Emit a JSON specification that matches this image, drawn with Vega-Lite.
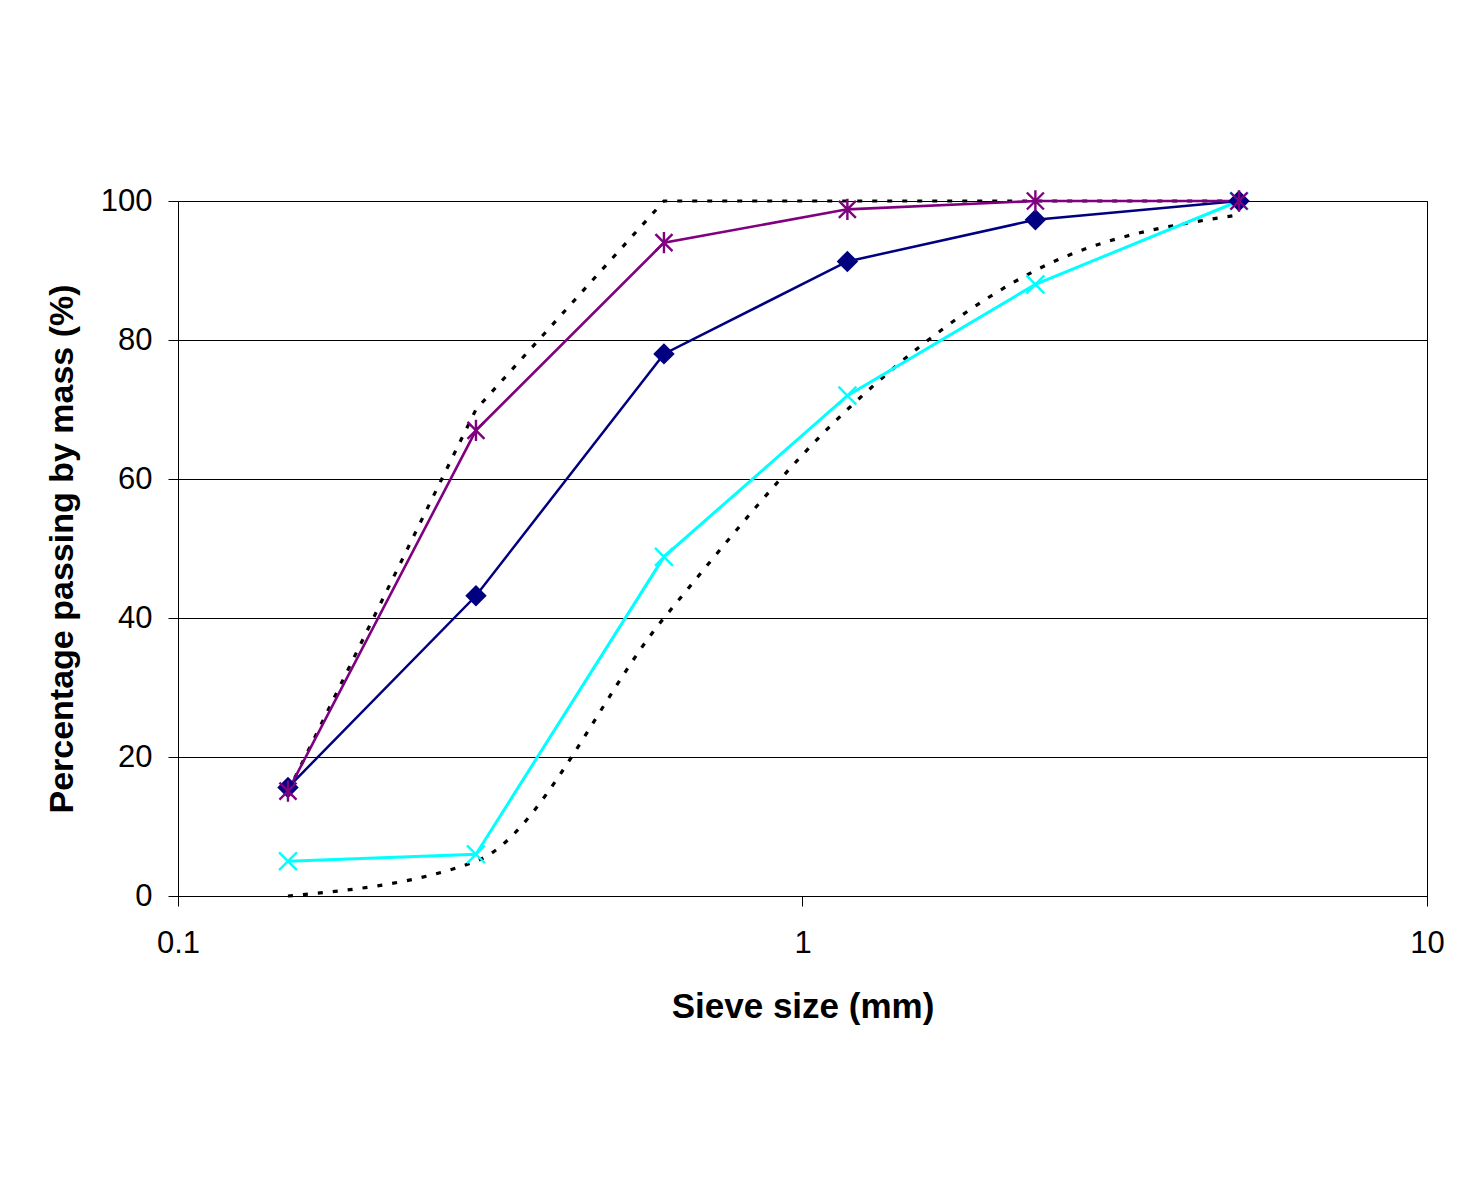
{
  "$schema": "https://vega.github.io/schema/vega-lite/v6.json",
  "width": 1249,
  "height": 695,
  "autosize": {"type": "none"},
  "padding": {"left": 178, "top": 201, "right": 49, "bottom": 287},
  "background": "white",
  "config": {
    "view": {"stroke": "black", "strokeWidth": 1},
    "font": "Liberation Sans",
    "axis": {
      "domainColor": "black",
      "tickColor": "black",
      "labelColor": "black",
      "titleColor": "black",
      "labelFont": "Liberation Sans",
      "titleFont": "Liberation Sans",
      "labelFontSize": 31,
      "titleFontSize": 35,
      "titleFontWeight": "bold",
      "tickSize": 10,
      "domainWidth": 1,
      "tickWidth": 1
    }
  },
  "datasets": {
    "samples": [
      {"series": "A", "size": 0.15, "pct": 15.6},
      {"series": "A", "size": 0.3, "pct": 43.2},
      {"series": "A", "size": 0.6, "pct": 78},
      {"series": "A", "size": 1.18, "pct": 91.3},
      {"series": "A", "size": 2.36, "pct": 97.3},
      {"series": "A", "size": 5.0, "pct": 100},
      {"series": "B", "size": 0.15, "pct": 15.1},
      {"series": "B", "size": 0.3, "pct": 67},
      {"series": "B", "size": 0.6, "pct": 94},
      {"series": "B", "size": 1.18, "pct": 98.8},
      {"series": "B", "size": 2.36, "pct": 100},
      {"series": "B", "size": 5.0, "pct": 100},
      {"series": "C", "size": 0.15, "pct": 5},
      {"series": "C", "size": 0.3, "pct": 6},
      {"series": "C", "size": 0.6, "pct": 48.8},
      {"series": "C", "size": 1.18, "pct": 72},
      {"series": "C", "size": 2.36, "pct": 88},
      {"series": "C", "size": 5.0, "pct": 100}
    ],
    "upper": [
      {"size": 0.15, "pct": 15},
      {"size": 0.3, "pct": 70},
      {"size": 0.6, "pct": 100},
      {"size": 1.18, "pct": 100},
      {"size": 2.36, "pct": 100},
      {"size": 5.0, "pct": 100}
    ],
    "lower": [
      {"size": 0.15, "pct": 0},
      {"size": 0.3, "pct": 5},
      {"size": 0.6, "pct": 40},
      {"size": 1.18, "pct": 70},
      {"size": 2.36, "pct": 90},
      {"size": 5.0, "pct": 98}
    ]
  },
  "encoding": {
    "x": {
      "field": "size",
      "type": "quantitative",
      "scale": {"type": "log", "domain": [0.1, 10], "nice": false},
      "axis": {
        "title": "Sieve size (mm)",
        "values": [0.1, 1, 10],
        "format": "~g",
        "grid": false,
        "labelPadding": 22,
        "titleY": 121,
        "titleBaseline": "alphabetic",
        "labelFlush": false
      }
    },
    "y": {
      "field": "pct",
      "type": "quantitative",
      "scale": {"domain": [0, 100], "nice": false},
      "axis": {
        "title": "Percentage passing by mass (%)",
        "titleFontSize": 34,
        "values": [0, 20, 40, 60, 80, 100],
        "grid": true,
        "gridColor": "black",
        "gridWidth": 1,
        "gridOpacity": 1,
        "labelPadding": 16,
        "titleX": -106,
        "titleBaseline": "alphabetic"
      }
    }
  },
  "layer": [
    {
      "data": {"name": "lower"},
      "mark": {"type": "line", "color": "black", "strokeWidth": 3.2, "strokeDash": [5, 10], "interpolate": "monotone"}
    },
    {
      "data": {"name": "upper"},
      "mark": {"type": "line", "color": "black", "strokeWidth": 3.2, "strokeDash": [5, 10]}
    },
    {
      "data": {"name": "samples"},
      "transform": [{"filter": "datum.series === 'C'"}],
      "mark": {"type": "line", "color": "#00FFFF", "strokeWidth": 3}
    },
    {
      "data": {"name": "samples"},
      "transform": [{"filter": "datum.series === 'A'"}],
      "mark": {"type": "line", "color": "#000080", "strokeWidth": 2.5}
    },
    {
      "data": {"name": "samples"},
      "transform": [{"filter": "datum.series === 'B'"}],
      "mark": {"type": "line", "color": "#800080", "strokeWidth": 2.6}
    },
    {
      "data": {"name": "samples"},
      "transform": [{"filter": "datum.series === 'C'"}],
      "mark": {"type": "point", "shape": "M-1,-1L1,1M-1,1L1,-1", "filled": false, "color": "#00FFFF", "strokeWidth": 2.4, "size": 320, "opacity": 1}
    },
    {
      "data": {"name": "samples"},
      "transform": [{"filter": "datum.series === 'A'"}],
      "mark": {"type": "point", "shape": "diamond", "filled": true, "color": "#000080", "size": 460, "opacity": 1}
    },
    {
      "data": {"name": "samples"},
      "transform": [{"filter": "datum.series === 'B'"}],
      "mark": {"type": "point", "shape": "M-1,-1L1,1M-1,1L1,-1M0,-1.25L0,1.25", "filled": false, "color": "#800080", "strokeWidth": 2.4, "size": 290, "opacity": 1}
    }
  ]
}
